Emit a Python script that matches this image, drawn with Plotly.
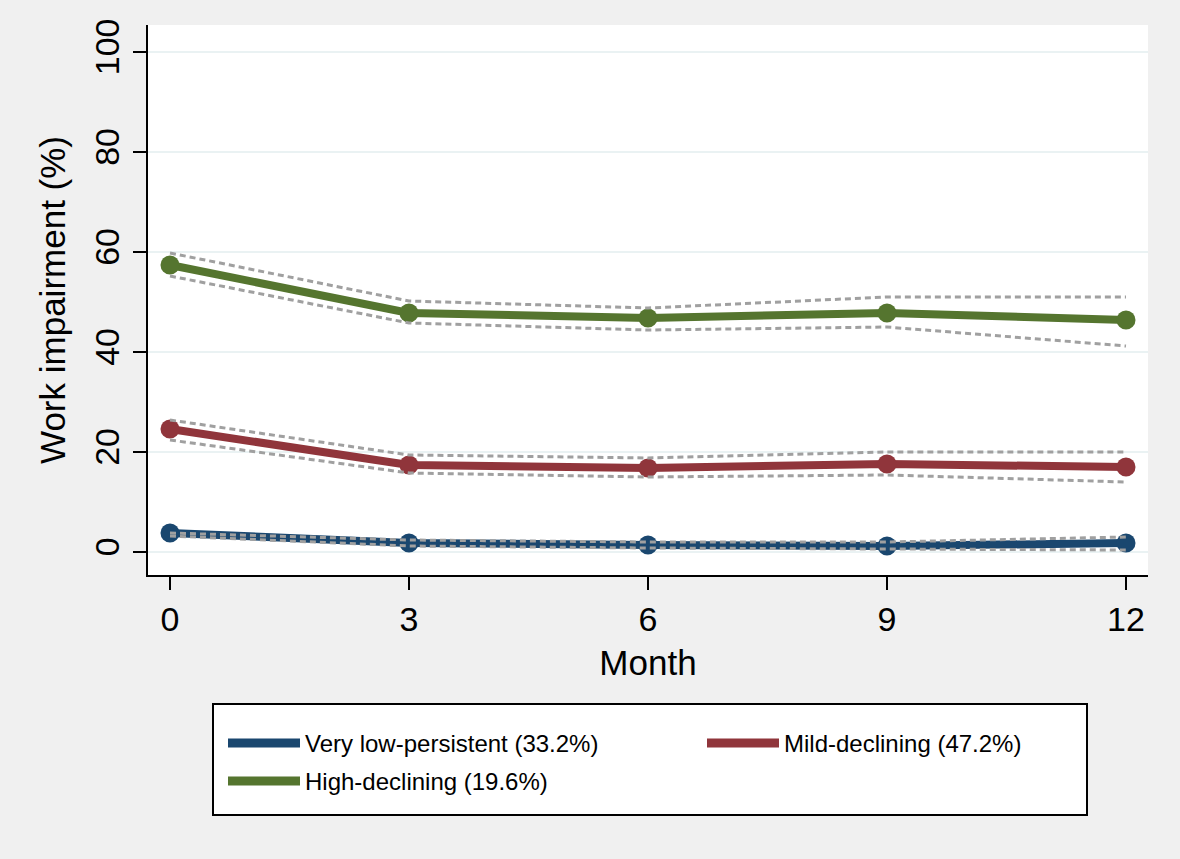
import plotly.graph_objects as go

months = [0, 3, 6, 9, 12]
series_names = ["Very low-persistent (33.2%)", "Mild-declining (47.2%)", "High-declining (19.6%)"]
series_colors = ["#1a476f", "#90353b", "#55752f"]

very_low = [3.8, 1.8, 1.4, 1.2, 1.8]
very_low_upper = [3.8, 2.4, 2.0, 2.0, 3.0]
very_low_lower = [3.2, 1.2, 0.8, 0.6, 0.4]

mild = [24.6, 17.4, 16.8, 17.6, 17.0]
mild_upper = [26.4, 19.4, 18.8, 20.0, 20.0]
mild_lower = [22.4, 15.8, 15.0, 15.4, 14.0]

high = [57.4, 47.8, 46.8, 47.8, 46.4]
high_upper = [59.8, 50.2, 48.8, 51.0, 51.0]
high_lower = [55.2, 45.8, 44.4, 45.0, 41.2]

y_ticks = [0, 20, 40, 60, 80, 100]
x_ticks = [0, 3, 6, 9, 12]

values = [very_low, mild, high]
uppers = [very_low_upper, mild_upper, high_upper]
lowers = [very_low_lower, mild_lower, high_lower]

FONT = "Liberation Sans, Arial, sans-serif"

fig = go.Figure()
for name, col, v in zip(series_names, series_colors, values):
    fig.add_trace(go.Scatter(
        x=months, y=v, mode="lines+markers", name=name,
        line=dict(color=col, width=8),
        marker=dict(color=col, size=19),
        showlegend=False,
    ))
for up, lo in zip(uppers, lowers):
    for b in (up, lo):
        fig.add_trace(go.Scatter(
            x=months, y=b, mode="lines",
            line=dict(color="#a0a0a0", width=3, dash="6px,4px"),
            showlegend=False, hoverinfo="skip",
        ))

L, R, T, B = 148, 32, 25, 284
W, H = 1180, 859
pw, ph = W - L - R, H - T - B

def px(x):
    return (x - L) / pw

def py(y):
    return (H - B - y) / ph

shapes = [dict(type="rect", xref="paper", yref="paper",
               x0=px(213), x1=px(1087), y0=py(815), y1=py(704),
               line=dict(color="black", width=2), fillcolor="white", layer="above")]
annotations = []
legend_pos = [(228, 743), (707, 743), (228, 781)]
for (lx, ly), name, col in zip(legend_pos, series_names, series_colors):
    shapes.append(dict(type="line", xref="paper", yref="paper",
                       x0=px(lx), x1=px(lx + 72), y0=py(ly), y1=py(ly),
                       line=dict(color=col, width=9), layer="above"))
    annotations.append(dict(xref="paper", yref="paper", x=px(lx + 75), y=py(ly),
                            xanchor="left", yanchor="middle", text=name, showarrow=False,
                            font=dict(family=FONT, size=24, color="black")))

fig.update_layout(
    width=W, height=H,
    margin=dict(l=L, r=R, t=T, b=B),
    paper_bgcolor="#f0f0f0",
    plot_bgcolor="white",
    font=dict(family=FONT, color="black"),
    shapes=shapes,
    annotations=annotations,
    xaxis=dict(
        range=[-0.276, 12.276], tickvals=x_ticks, ticks="outside", ticklen=13,
        tickwidth=2, tickcolor="black", showline=True, linecolor="black", linewidth=2,
        showgrid=False, zeroline=False, tickfont=dict(size=34),
        title=dict(text="Month", font=dict(size=35), standoff=14),
    ),
    yaxis=dict(
        range=[-4.6, 105.4], tickvals=y_ticks, ticks="outside", ticklen=13,
        tickwidth=2, tickcolor="black", showline=True, linecolor="black", linewidth=2,
        showgrid=True, gridcolor="#eaf2f3", gridwidth=2, zeroline=False,
        tickangle=-90, tickfont=dict(size=34),
        title=dict(text="Work impairment (%)", font=dict(size=35), standoff=12),
    ),
)

fig.write_html(
    "out.html",
    config={"displayModeBar": False},
    post_script="document.body.style.margin='0';document.body.style.background='#f0f0f0';document.body.style.overflow='hidden';",
)
